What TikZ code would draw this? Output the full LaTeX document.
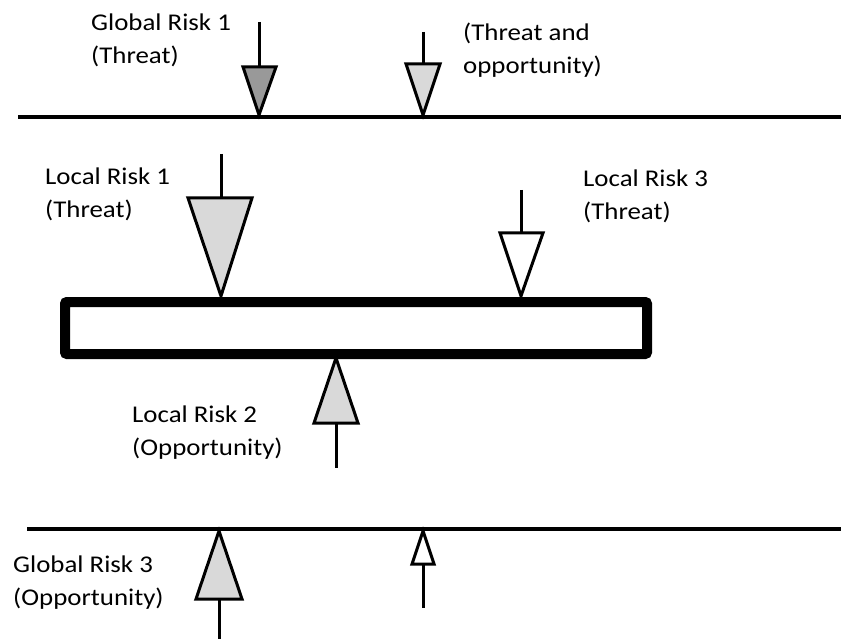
\documentclass[tikz,border=0pt]{standalone}
\usepackage{fontspec}
\setmainfont[FakeStretch=1.12]{Carlito}
\begin{document}
\begin{tikzpicture}[x=1pt,y=-1pt,
  lbl/.style={anchor=base west,inner sep=0pt,align=left,font=\fontsize{24}{33}\selectfont},
  stem/.style={line width=3pt},
  tri/.style={line width=3pt,line join=miter},
  hline/.style={line width=4pt},
  darkfill/.style={fill=black!40},
  lightfill/.style={fill=black!15},
  nofill/.style={fill=white}]
\useasboundingbox (0,0) rectangle (841,639);
% horizontal lines
\coordinate (t1) at (18,117); \coordinate (t2) at (841,117);
\draw[hline] (t1) -- (t2);
\coordinate (b1) at (27,529); \coordinate (b2) at (841,529);
\draw[line width=3.5pt] (b1) -- (b2);
% box
\node[draw,line width=10pt,rounded corners=2pt,minimum width=582pt,minimum height=52pt,inner sep=0pt] (box) at (356,328) {};
% Global risk 1 (dark)
\draw[stem] (259,22) -- (259,67);
\draw[tri,darkfill] (243,67) -- (276,67) -- (259,115) -- cycle;
% threat and opportunity
\draw[stem] (423,32) -- (423,64);
\draw[tri,lightfill] (406,64) -- (440,64) -- (423,115) -- cycle;
% Local risk 1
\draw[stem] (221,154) -- (221,198);
\draw[tri,lightfill] (188,198) -- (252,198) -- (221,296) -- cycle;
% Local risk 3
\draw[stem] (521,190) -- (521,233);
\draw[tri,nofill] (500,233) -- (543,233) -- (521,296) -- cycle;
% Local risk 2
\draw[stem] (336,423) -- (336,468);
\draw[tri,lightfill] (314,423) -- (358,423) -- (336,358) -- cycle;
% Global risk 3
\draw[stem] (219,599) -- (219,639);
\draw[tri,lightfill] (196,599) -- (242,599) -- (219,531) -- cycle;
% small up arrow
\draw[stem] (423,564) -- (423,608);
\draw[tri,nofill] (412,564) -- (434,564) -- (423,531) -- cycle;
% labels (anchor = baseline of last line)
\node[lbl] (g1) at (91,64) {Global Risk 1\\(Threat)};
\node[lbl] (g2) at (463,74) {(Threat and\\opportunity)};
\node[lbl] (l1) at (45,218) {Local Risk 1\\(Threat)};
\node[lbl] (l3) at (583,220) {Local Risk 3\\(Threat)};
\node[lbl] (l2) at (132,455) {Local Risk 2\\(Opportunity)};
\node[lbl] (g3) at (13,605) {Global Risk 3\\(Opportunity)};
\end{tikzpicture}
\end{document}
